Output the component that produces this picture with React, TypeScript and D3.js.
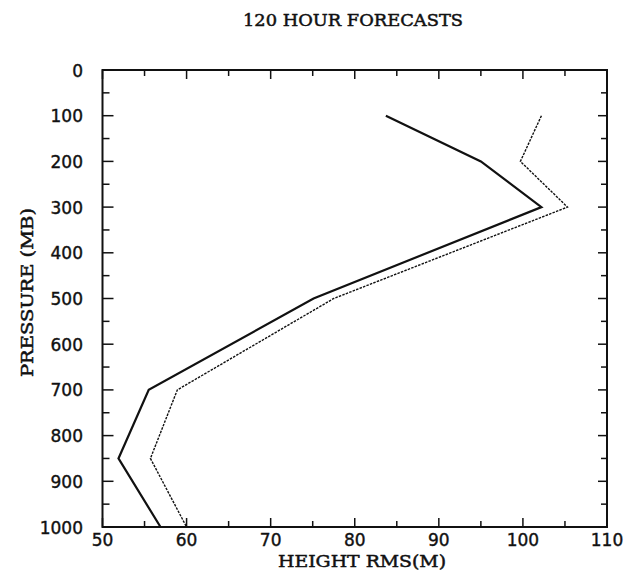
import React, { useEffect, useRef } from "react";
import * as d3 from "d3";

const pressureLevels = [100, 200, 300, 500, 700, 850, 1000];
const solidRms = [83.7, 95.0, 102.2, 75.1, 55.5, 51.9, 56.9];
const dottedRms = [102.2, 99.7, 105.3, 77.5, 58.9, 55.7, 60.0];
const xTicks = [50, 60, 70, 80, 90, 100, 110];
const yTicks = [0, 100, 200, 300, 400, 500, 600, 700, 800, 900, 1000];

const App = () => {
  const ref = useRef<SVGSVGElement>(null);

  useEffect(() => {
    const svg = d3.select(ref.current);
    svg.selectAll("*").remove();

    const width = 635, height = 574;
    const left = 102.5, right = 607, top = 70, bottom = 527;

    svg.attr("width", width).attr("height", height);

    const x = d3.scaleLinear().domain([50, 110]).range([left, right]);
    const y = d3.scaleLinear().domain([0, 1000]).range([top, bottom]);

    const ink = "#111";
    const serif = "'DejaVu Serif', serif";
    const sans = "'DejaVu Sans', sans-serif";

    // frame
    svg.append("rect")
      .attr("x", left).attr("y", top)
      .attr("width", right - left).attr("height", bottom - top)
      .attr("fill", "none").attr("stroke", ink).attr("stroke-width", 2);

    // x ticks every 5, top and bottom, pointing inward
    d3.range(50, 111, 5).forEach((v) => {
      const len = v % 10 === 0 ? 9 : 6;
      const px = x(v);
      svg.append("line").attr("x1", px).attr("x2", px)
        .attr("y1", bottom).attr("y2", bottom - len)
        .attr("stroke", ink).attr("stroke-width", 1.5);
      svg.append("line").attr("x1", px).attr("x2", px)
        .attr("y1", top).attr("y2", top + len)
        .attr("stroke", ink).attr("stroke-width", 1.5);
    });

    // y ticks every 50, left and right
    d3.range(0, 1001, 50).forEach((v) => {
      const major = v % 100 === 0;
      const py = y(v);
      svg.append("line").attr("x1", left).attr("x2", left + (major ? 11 : 7))
        .attr("y1", py).attr("y2", py)
        .attr("stroke", ink).attr("stroke-width", 1.5);
      svg.append("line").attr("x1", right).attr("x2", right - (major ? 9 : 6))
        .attr("y1", py).attr("y2", py)
        .attr("stroke", ink).attr("stroke-width", 1.5);
    });

    xTicks.forEach((v) => {
      svg.append("text")
        .attr("x", x(v)).attr("y", 546)
        .attr("text-anchor", "middle")
        .attr("font-family", sans).attr("font-size", 17)
        .attr("fill", ink).attr("stroke", ink).attr("stroke-width", 0.4)
        .text(v);
    });

    yTicks.forEach((v) => {
      svg.append("text")
        .attr("x", 83).attr("y", y(v) + 6.5)
        .attr("text-anchor", "end")
        .attr("font-family", sans).attr("font-size", 17)
        .attr("fill", ink).attr("stroke", ink).attr("stroke-width", 0.4)
        .text(v);
    });

    // titles
    svg.append("text")
      .attr("x", 353).attr("y", 25.5)
      .attr("text-anchor", "middle")
      .attr("font-family", serif).attr("font-size", 17)
      .attr("textLength", 220).attr("lengthAdjust", "spacingAndGlyphs")
      .attr("fill", ink).attr("stroke", ink).attr("stroke-width", 0.5)
      .text("120 HOUR FORECASTS");

    svg.append("text")
      .attr("x", 362).attr("y", 567)
      .attr("text-anchor", "middle")
      .attr("font-family", serif).attr("font-size", 17)
      .attr("textLength", 168).attr("lengthAdjust", "spacingAndGlyphs")
      .attr("fill", ink).attr("stroke", ink).attr("stroke-width", 0.5)
      .text("HEIGHT RMS(M)");

    svg.append("text")
      .attr("transform", "translate(33, 292.5) rotate(-90)")
      .attr("text-anchor", "middle")
      .attr("font-family", serif).attr("font-size", 16)
      .attr("textLength", 169).attr("lengthAdjust", "spacingAndGlyphs")
      .attr("fill", ink).attr("stroke", ink).attr("stroke-width", 0.5)
      .text("PRESSURE (MB)");

    const line = d3.line<number>()
      .x((d) => x(d))
      .y((d, i) => y(pressureLevels[i]));

    svg.append("path")
      .datum(solidRms)
      .attr("d", line)
      .attr("fill", "none")
      .attr("stroke", ink)
      .attr("stroke-width", 2.2);

    svg.append("path")
      .datum(dottedRms)
      .attr("d", line)
      .attr("fill", "none")
      .attr("stroke", ink)
      .attr("stroke-width", 1.4)
      .attr("stroke-dasharray", "2.5,1.2");
  }, []);

  return (
    <svg ref={ref} style={{ position: "absolute", left: 0, top: 0, background: "#fff" }}></svg>
  );
};

export default App;
